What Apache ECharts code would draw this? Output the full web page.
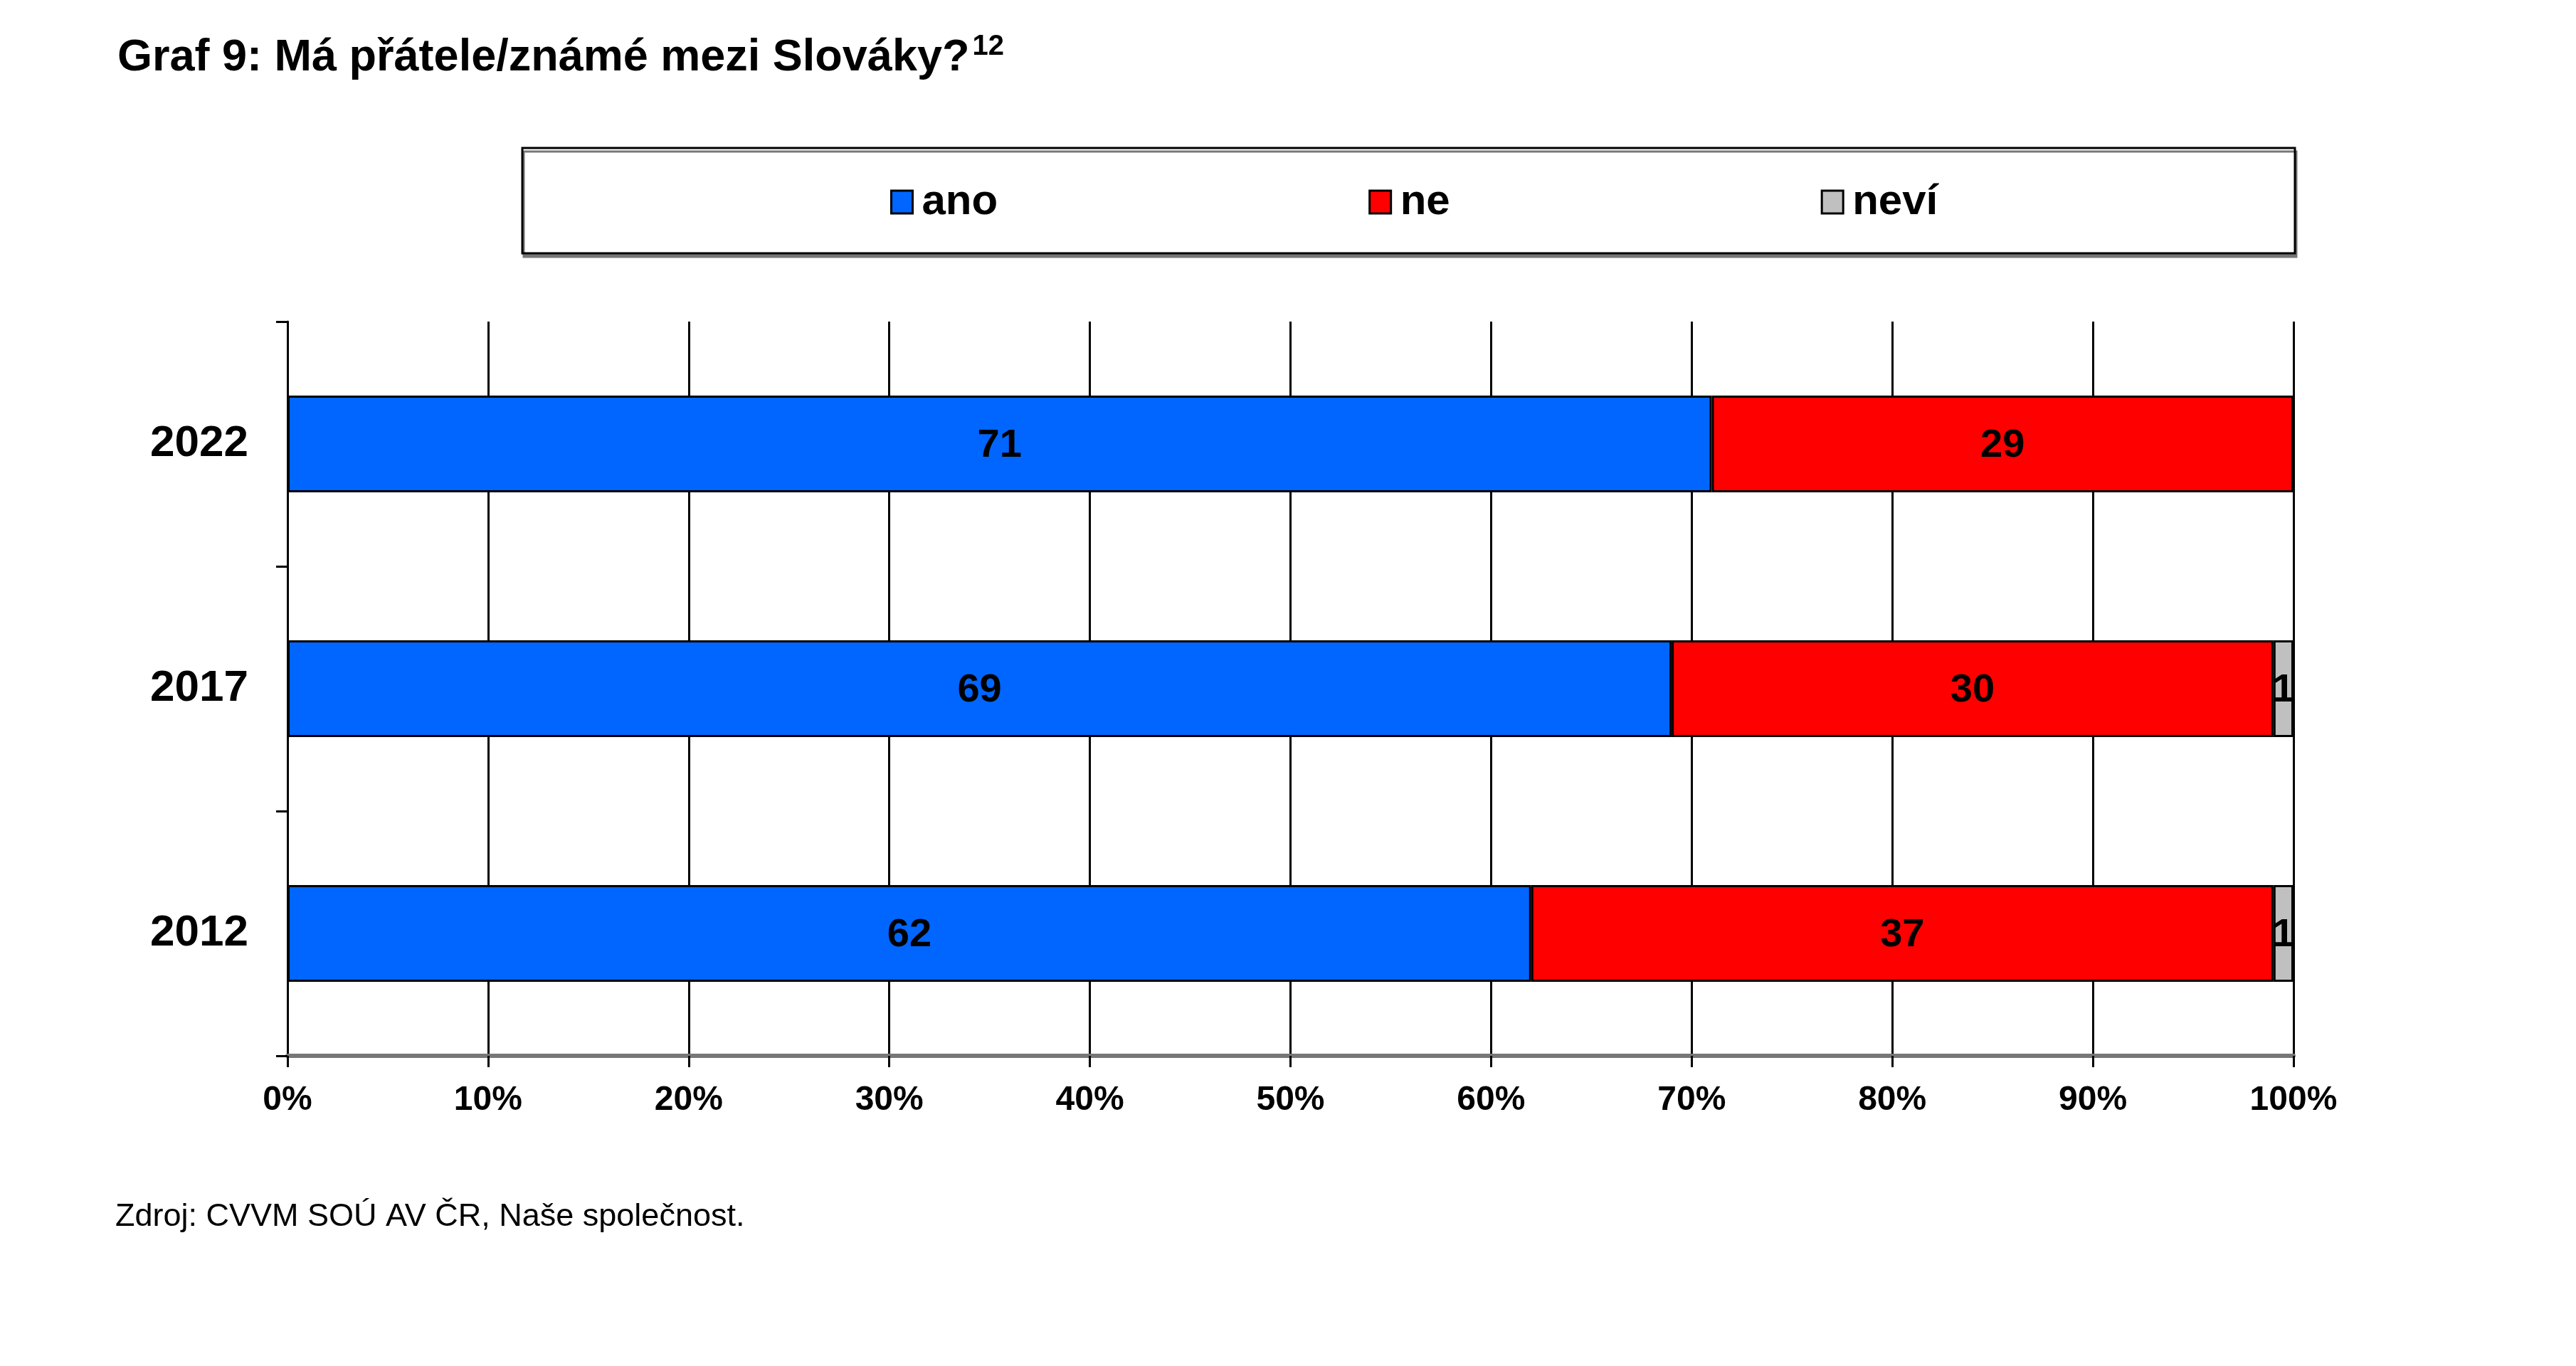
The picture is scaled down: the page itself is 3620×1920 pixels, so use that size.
<!DOCTYPE html>
<html>
<head>
<meta charset="utf-8">
<script src="https://cdn.jsdelivr.net/npm/echarts@6/dist/echarts.min.js"></script>
<style>
html,body{margin:0;padding:0;background:#fff;}
#chart{width:3620px;height:1920px;}
</style>
</head>
<body>
<div id="chart"></div>
<script>
// Data
const years = ['2012', '2017', '2022'];
const ano = [62, 69, 71];
const ne = [37, 30, 29];
const nevi = [1, 1, 0];
const seriesNames = ['ano', 'ne', 'neví'];
const xTicks = [0, 10, 20, 30, 40, 50, 60, 70, 80, 90, 100];

const colors = ['#0066FF', '#FF0000', '#C0C0C0'];
const FONT = 'Liberation Sans, Arial, sans-serif';

const chart = echarts.init(document.getElementById('chart'));

function barSeries(name, values, color) {
  return {
    name: name,
    type: 'bar',
    stack: 'total',
    barWidth: '39.5%',
    data: values,
    itemStyle: { color: color, borderColor: '#000', borderWidth: 3 },
    label: {
      show: true,
      position: 'inside',
      color: '#000',
      fontFamily: FONT,
      fontWeight: 'bold',
      fontSize: 56,
      offset: [0, 3],
      formatter: p => (p.value ? String(p.value) : '')
    },
    emphasis: { disabled: true }
  };
}

chart.setOption({
  animation: false,
  backgroundColor: '#fff',
  title: {
    text: 'Graf 9: Má přátele/známé mezi Slováky?{sup|12}',
    left: 160,
    top: 41,
    textStyle: {
      fontFamily: FONT,
      fontWeight: 'bold',
      fontSize: 63,
      lineHeight: 72,
      color: '#000',
      rich: {
        sup: { fontFamily: FONT, fontWeight: 'bold', fontSize: 40, lineHeight: 72, verticalAlign: 'top', color: '#000', padding: [0,0,0,4] }
      }
    }
  },
  graphic: [
    { type: 'rect', z: 0, silent: true,
      shape: { x: 734, y: 208, width: 2491, height: 148 },
      style: { fill: '#fff', stroke: '#000', lineWidth: 3, shadowColor: '#777', shadowOffsetX: 2, shadowOffsetY: 5, shadowBlur: 0 } },
    { type: 'text', z: 10, silent: true, left: 162, top: 1688,
      style: { text: 'Zdroj: CVVM SOÚ AV ČR, Naše společnost.', font: '45px ' + FONT, fill: '#000' } }
  ],
  legend: {
    data: seriesNames,
    left: 1246,
    top: 249,
    icon: 'rect',
    itemWidth: 30,
    itemHeight: 32,
    itemGap: 521,
    z: 20,
    itemStyle: { borderColor: '#000', borderWidth: 3 },
    textStyle: { fontFamily: FONT, fontWeight: 'bold', fontSize: 60, color: '#000', padding: [0, 0, 0, 8] }
  },
  grid: { left: 404, right: 397, top: 452, bottom: 436, containLabel: false },
  xAxis: {
    type: 'value',
    min: 0, max: 100, interval: 10,
    axisLine: { show: true, lineStyle: { color: '#777', width: 6 } },
    axisTick: { show: true, length: 16, lineStyle: { color: '#000', width: 3 } },
    splitLine: { show: true, lineStyle: { color: '#000', width: 3 } },
    axisLabel: {
      margin: 39,
      fontFamily: FONT, fontWeight: 'bold', fontSize: 48, color: '#000',
      formatter: v => (xTicks.indexOf(v) >= 0 ? v + '%' : '')
    }
  },
  yAxis: {
    type: 'category',
    data: years,
    axisLine: { show: true, lineStyle: { color: '#000', width: 3 } },
    axisTick: { show: true, length: 16, lineStyle: { color: '#000', width: 3 } },
    axisLabel: { margin: 55, fontFamily: FONT, fontWeight: 'bold', fontSize: 62, color: '#000', padding: [6, 0, 0, 0] },
    splitLine: { show: false }
  },
  series: [
    barSeries(seriesNames[0], ano, colors[0]),
    barSeries(seriesNames[1], ne, colors[1]),
    barSeries(seriesNames[2], nevi, colors[2])
  ]
});
</script>
</body>
</html>
